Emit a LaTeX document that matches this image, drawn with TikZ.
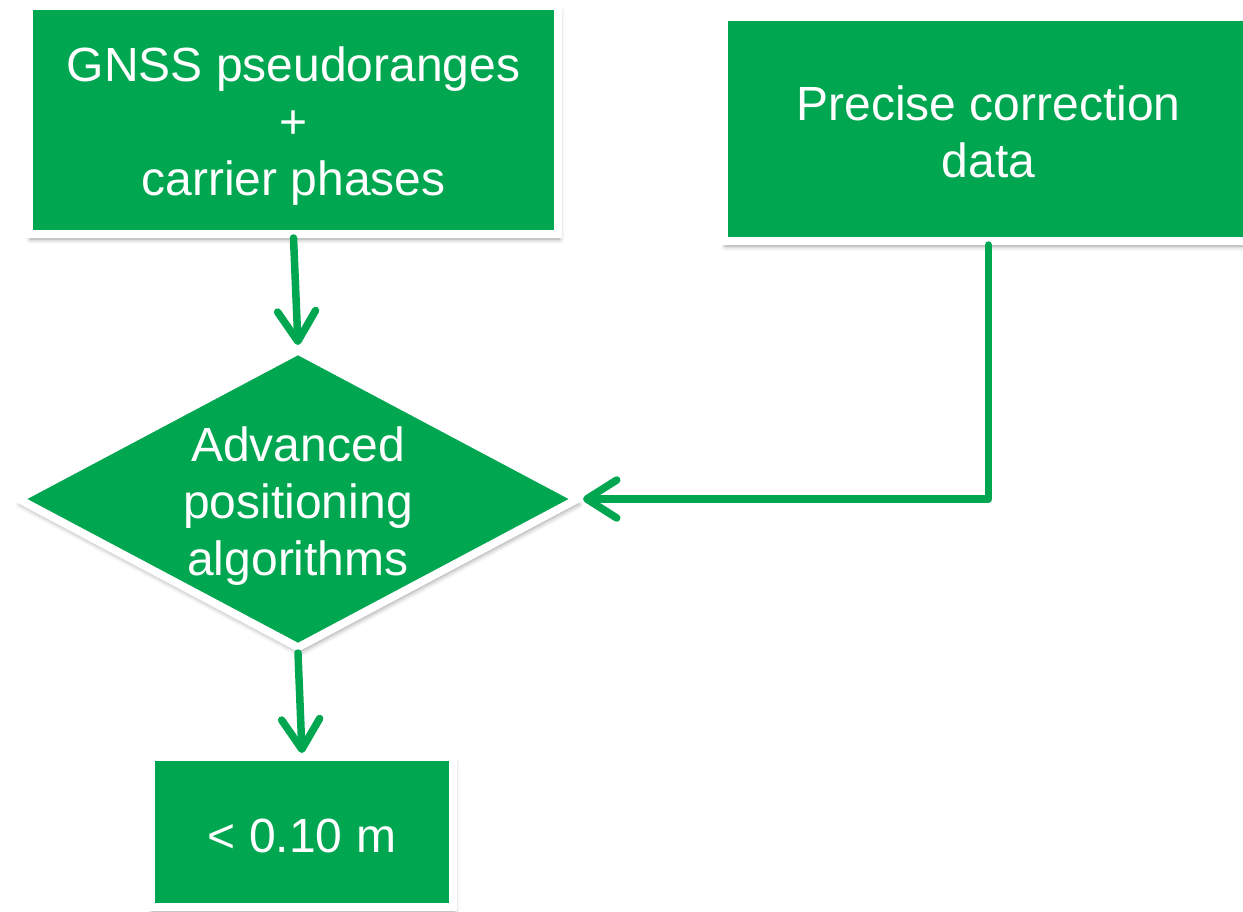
\documentclass[tikz,border=0pt]{standalone}
\usepackage{fontspec}
\setmainfont{Liberation Sans}
\usetikzlibrary{arrows.meta,shapes.geometric,shadows.blur}
\definecolor{gnss}{RGB}{0,166,80}

\tikzset{
  softshadow/.style={blur shadow={shadow xshift=1.5pt, shadow yshift=-5pt,
      shadow blur radius=5pt, shadow opacity=40}},
  panel/.style={rectangle, fill=gnss, draw=white, line width=8pt, softshadow,
      minimum width=529pt, minimum height=228pt, inner sep=0pt},
  decision/.style={diamond, fill=gnss, draw=white, line width=8pt, softshadow,
      minimum width=562pt, minimum height=300pt, inner sep=0pt, shape aspect=1.87},
  txt/.style={draw=none, fill=none, text=white, align=center, inner sep=0pt,
      font=\fontsize{48}{57}\selectfont},
  flow/.style={draw=gnss, line width=7.5pt, line cap=round, line join=round,
      -{Straight Barb[length=30pt, width=38pt, round]}},
}

\begin{document}
\begin{tikzpicture}[x=1pt, y=-1pt]
  \useasboundingbox (0,0) rectangle (1243,911);
  \clip (0,0) rectangle (1243,911);

  % measurement inputs
  \node[panel, label={[txt, yshift=-6.5pt]center:{GNSS pseudoranges\\+\\carrier phases}}]
    (obs) at (293.5,120) {};
  \node[panel, minimum height=224pt, label={[txt, yshift=-2.5pt]center:{Precise correction\\data}}]
    (corr) at (988.5,129) {};

  % processing step
  \node[decision, label={[txt, yshift=-7pt]center:{Advanced\\positioning\\algorithms}}]
    (algo) at (298,499) {};

  % resulting accuracy
  \node[panel, minimum width=302pt, minimum height=150pt,
        label={[txt, yshift=-3.5pt]center:{< 0.10 m}}]
    (acc) at (302,832) {};

  % data flow
  \draw[flow] (obs.south) -- (algo.north);
  \draw[flow] (corr.south) |- (algo.east);
  \draw[flow] (algo.south) -- (acc.north);
\end{tikzpicture}
\end{document}
